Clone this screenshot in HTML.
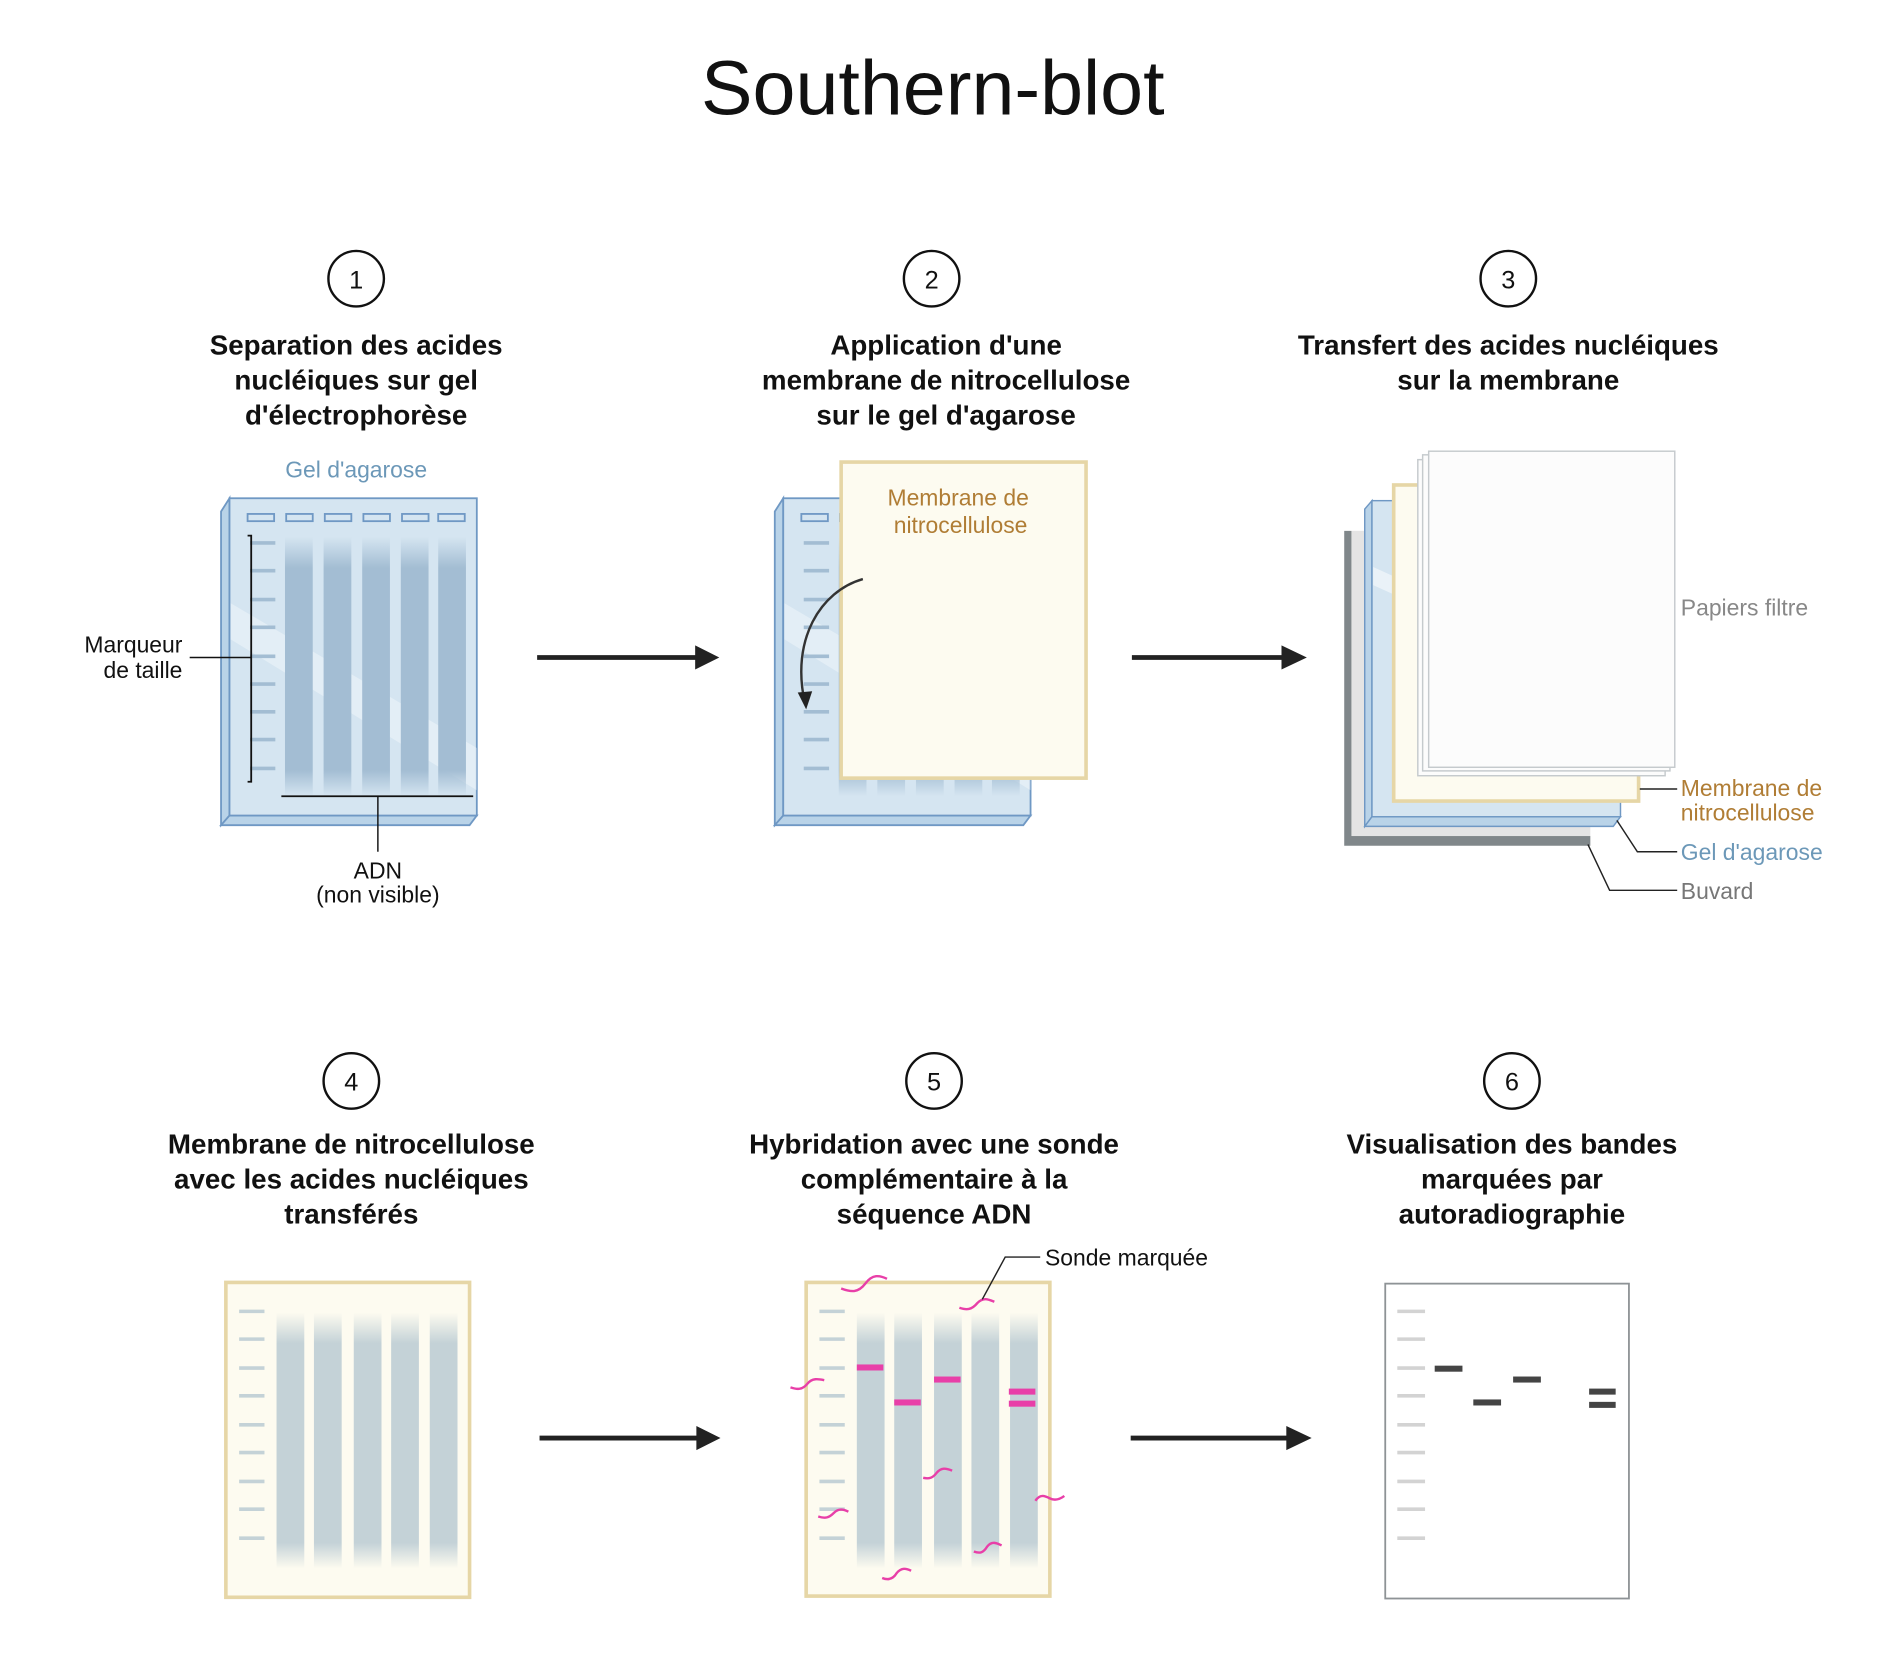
<!DOCTYPE html>
<html><head><meta charset="utf-8"><style>
html,body{margin:0;padding:0;background:#fff;}
svg{display:block;}
text{font-family:"Liberation Sans",sans-serif;}
.t{font-size:23px;font-weight:bold;fill:#111;text-anchor:middle;}
.n{font-size:21px;fill:#111;text-anchor:middle;}
.l{font-size:19px;}
</style></head><body>
<svg width="1891" height="1654" viewBox="0 0 1567 1371" xmlns="http://www.w3.org/2000/svg">
<defs>
<linearGradient id="lane" x1="0" y1="0" x2="0" y2="1">
<stop offset="0" stop-color="#a3bdd3" stop-opacity="0"/><stop offset="0.12" stop-color="#a3bdd3"/><stop offset="0.9" stop-color="#a3bdd3"/><stop offset="1" stop-color="#a3bdd3" stop-opacity="0"/></linearGradient>
<linearGradient id="lane2" x1="0" y1="0" x2="0" y2="1">
<stop offset="0" stop-color="#c4d2d7" stop-opacity="0"/><stop offset="0.12" stop-color="#c4d2d7"/><stop offset="0.9" stop-color="#c4d2d7"/><stop offset="1" stop-color="#c4d2d7" stop-opacity="0"/></linearGradient>
<g id="gel">
<path d="M183,424 L190,413 L190,676 L183,684 Z" fill="#b9d3e8" stroke="#6f98c4" stroke-width="1.5"/>
<path d="M183,684 L190,676 L395,676 L389,684 Z" fill="#b9d3e8" stroke="#6f98c4" stroke-width="1.5"/>
<rect x="190" y="413" width="205" height="263" fill="#d5e5f1" stroke="#6f98c4" stroke-width="1.5"/>
<path d="M191,500 L395,620 L395,655 L191,530 Z" fill="#fff" opacity="0.35"/>
<g fill="none" stroke="#6f98c4" stroke-width="1.5">
<rect x="205" y="426" width="22" height="6"/><rect x="237" y="426" width="22" height="6"/><rect x="269" y="426" width="22" height="6"/><rect x="301" y="426" width="22" height="6"/><rect x="333" y="426" width="22" height="6"/><rect x="363" y="426" width="22" height="6"/></g>
<g fill="url(#lane)"><rect x="236" y="445" width="23" height="215"/><rect x="268" y="445" width="23" height="215"/><rect x="300" y="445" width="23" height="215"/><rect x="332" y="445" width="23" height="215"/><rect x="363" y="445" width="23" height="215"/></g>
<g stroke="#a3bdd3" stroke-width="3"><line x1="207" x2="228" y1="450" y2="450"/><line x1="207" x2="228" y1="473" y2="473"/><line x1="207" x2="228" y1="497" y2="497"/><line x1="207" x2="228" y1="520" y2="520"/><line x1="207" x2="228" y1="544" y2="544"/><line x1="207" x2="228" y1="567" y2="567"/><line x1="207" x2="228" y1="590" y2="590"/><line x1="207" x2="228" y1="613" y2="613"/><line x1="207" x2="228" y1="637" y2="637"/></g>
</g>
<g id="mem">
<g fill="url(#lane2)"><rect x="229" y="1088" width="23" height="212"/><rect x="260" y="1088" width="23" height="212"/><rect x="293" y="1088" width="23" height="212"/><rect x="324" y="1088" width="23" height="212"/><rect x="356" y="1088" width="23" height="212"/></g>
<g stroke="#c4d2d7" stroke-width="3"><line x1="198" x2="219" y1="1087" y2="1087"/><line x1="198" x2="219" y1="1110" y2="1110"/><line x1="198" x2="219" y1="1134" y2="1134"/><line x1="198" x2="219" y1="1157" y2="1157"/><line x1="198" x2="219" y1="1181" y2="1181"/><line x1="198" x2="219" y1="1204" y2="1204"/><line x1="198" x2="219" y1="1228" y2="1228"/><line x1="198" x2="219" y1="1251" y2="1251"/><line x1="198" x2="219" y1="1275" y2="1275"/></g>
</g>
</defs>

<text x="773" y="95" font-size="64" text-anchor="middle" fill="#111">Southern-blot</text>

<g fill="none" stroke="#111" stroke-width="2">
<circle cx="295" cy="231" r="23"/><circle cx="772" cy="231" r="23"/><circle cx="1250" cy="231" r="23"/>
<circle cx="291" cy="896" r="23"/><circle cx="774" cy="896" r="23"/><circle cx="1253" cy="896" r="23"/></g>
<text class="n" x="295" y="239">1</text><text class="n" x="772" y="239">2</text><text class="n" x="1250" y="239">3</text>
<text class="n" x="291" y="904">4</text><text class="n" x="774" y="904">5</text><text class="n" x="1253" y="904">6</text>

<text class="t" x="295" y="294">Separation des acides</text><text class="t" x="295" y="323">nucléiques sur gel</text><text class="t" x="295" y="352">d'électrophorèse</text>
<text class="t" x="784" y="294">Application d'une</text><text class="t" x="784" y="323">membrane de nitrocellulose</text><text class="t" x="784" y="352">sur le gel d'agarose</text>
<text class="t" x="1250" y="294">Transfert des acides nucléiques</text><text class="t" x="1250" y="323">sur la membrane</text>
<text class="t" x="291" y="956">Membrane de nitrocellulose</text><text class="t" x="291" y="985">avec les acides nucléiques</text><text class="t" x="291" y="1014">transférés</text>
<text class="t" x="774" y="956">Hybridation avec une sonde</text><text class="t" x="774" y="985">complémentaire à la</text><text class="t" x="774" y="1014">séquence ADN</text>
<text class="t" x="1253" y="956">Visualisation des bandes</text><text class="t" x="1253" y="985">marquées par</text><text class="t" x="1253" y="1014">autoradiographie</text>

<g stroke="#222" stroke-width="4">
<line x1="445" y1="545" x2="580" y2="545"/><line x1="938" y1="545" x2="1066" y2="545"/>
<line x1="447" y1="1192" x2="581" y2="1192"/><line x1="937" y1="1192" x2="1070" y2="1192"/></g>
<g fill="#222">
<path d="M576,535 L596,545 L576,555 Z"/><path d="M1062,535 L1083,545 L1062,555 Z"/>
<path d="M577,1182 L597,1192 L577,1202 Z"/><path d="M1066,1182 L1087,1192 L1066,1202 Z"/></g>

<text x="295" y="396" class="l" fill="#6c98b8" text-anchor="middle">Gel d'agarose</text>
<use href="#gel"/>
<path d="M205,444 L208,444 L208,648 L205,648" fill="none" stroke="#111" stroke-width="1.5"/>
<line x1="157" y1="545" x2="208" y2="545" stroke="#111" stroke-width="1.2"/>
<text x="151" y="541" class="l" text-anchor="end" fill="#111">Marqueur</text>
<text x="151" y="562" class="l" text-anchor="end" fill="#111">de taille</text>
<line x1="233" y1="660" x2="392" y2="660" stroke="#111" stroke-width="1.5"/>
<line x1="313" y1="660" x2="313" y2="706" stroke="#111" stroke-width="1.2"/>
<text x="313" y="728" class="l" text-anchor="middle" fill="#111">ADN</text>
<text x="313" y="748" class="l" text-anchor="middle" fill="#111">(non visible)</text>

<use href="#gel" transform="translate(459,0)"/>
<rect x="697" y="383" width="203" height="262" fill="#fdfbf0" stroke="#e6d6a6" stroke-width="3"/>
<text x="794" y="419" class="l" text-anchor="middle" fill="#b07d35">Membrane de</text>
<text x="796" y="442" class="l" text-anchor="middle" fill="#b07d35">nitrocellulose</text>
<path d="M715,480 C680,490 655,530 667,583" fill="none" stroke="#333" stroke-width="2"/>
<path d="M661,574 L668,588 L673,573 Z" fill="#222"/>

<path d="M1114,440 L1120,440 L1120,693 L1318,693 L1318,701 L1114,701 Z" fill="#80878a"/>
<rect x="1120" y="440" width="198" height="253" fill="#e4e4e4"/>
<path d="M1131,422 L1137,415 L1137,677 L1131,685 Z" fill="#b9d3e8" stroke="#6f98c4" stroke-width="1.2"/>
<path d="M1131,685 L1137,677 L1343,677 L1337,685 Z" fill="#b9d3e8" stroke="#6f98c4" stroke-width="1.2"/>
<rect x="1137" y="415" width="206" height="262" fill="#d5e5f1" stroke="#6f98c4" stroke-width="1.2"/>
<path d="M1138,470 L1160,480 L1160,495 L1138,485 Z" fill="#fff" opacity="0.5"/>
<rect x="1155" y="402" width="203" height="262" fill="#fdfbf0" stroke="#e6d6a6" stroke-width="3"/>
<rect x="1175" y="381" width="205" height="262" fill="#fcfcfc" stroke="#c5cacd" stroke-width="1.2"/>
<rect x="1179" y="377" width="205" height="262" fill="#fcfcfc" stroke="#c5cacd" stroke-width="1.2"/>
<rect x="1184" y="374" width="204" height="262" fill="#fcfcfc" stroke="#c5cacd" stroke-width="1.2"/>
<text x="1393" y="510" class="l" fill="#888">Papiers filtre</text>
<line x1="1359" y1="654" x2="1390" y2="654" stroke="#222" stroke-width="1.2"/>
<text x="1393" y="660" class="l" fill="#b07d35">Membrane de</text>
<text x="1393" y="680" class="l" fill="#b07d35">nitrocellulose</text>
<path d="M1340,680 L1357,706 L1390,706" fill="none" stroke="#222" stroke-width="1.2"/>
<text x="1393" y="713" class="l" fill="#6c98b8">Gel d'agarose</text>
<path d="M1316,700 L1334,738 L1390,738" fill="none" stroke="#222" stroke-width="1.2"/>
<text x="1393" y="745" class="l" fill="#777">Buvard</text>

<rect x="187" y="1063" width="202" height="261" fill="#fdfbf0" stroke="#e6d6a6" stroke-width="3"/>
<use href="#mem"/>

<rect x="668" y="1063" width="202" height="260" fill="#fdfbf0" stroke="#e6d6a6" stroke-width="3"/>
<use href="#mem" transform="translate(481,0)"/>
<g fill="#e83fa8"><rect x="710" y="1131" width="22" height="5"/><rect x="741" y="1160" width="22" height="5"/><rect x="774" y="1141" width="22" height="5"/><rect x="836" y="1151" width="22" height="5"/><rect x="836" y="1161" width="22" height="5"/></g>
<g fill="none" stroke="#e83fa8" stroke-width="2">
<path d="M697,1068 c8,3 14,4 20,-4 c6,-8 12,-7 18,-4"/>
<path d="M795,1084 c6,2 10,2 15,-4 c5,-5 9,-3 14,-1"/>
<path d="M655,1150 c6,2 10,2 14,-3 c4,-5 9,-4 14,-3"/>
<path d="M765,1225 c5,1 8,0 11,-4 c4,-5 8,-4 13,-2"/>
<path d="M858,1244 c4,-6 8,-4 12,-2 c4,2 8,1 12,-2"/>
<path d="M678,1257 c6,2 9,1 13,-3 c4,-4 8,-3 12,-1"/>
<path d="M807,1286 c5,2 8,1 11,-4 c4,-5 8,-3 12,-1"/>
<path d="M731,1308 c5,2 9,1 12,-4 c4,-5 8,-4 12,-2"/></g>
<path d="M814,1077 L833,1042 L862,1042" fill="none" stroke="#222" stroke-width="1.2"/>
<text x="866" y="1049" class="l" fill="#111">Sonde marquée</text>

<rect x="1148" y="1064" width="202" height="261" fill="#fff" stroke="#8e9396" stroke-width="1.5"/>
<g stroke="#d3d3d3" stroke-width="3"><line x1="1158" x2="1181" y1="1087" y2="1087"/><line x1="1158" x2="1181" y1="1110" y2="1110"/><line x1="1158" x2="1181" y1="1134" y2="1134"/><line x1="1158" x2="1181" y1="1157" y2="1157"/><line x1="1158" x2="1181" y1="1181" y2="1181"/><line x1="1158" x2="1181" y1="1204" y2="1204"/><line x1="1158" x2="1181" y1="1228" y2="1228"/><line x1="1158" x2="1181" y1="1251" y2="1251"/><line x1="1158" x2="1181" y1="1275" y2="1275"/></g>
<g fill="#444"><rect x="1189" y="1132" width="23" height="5"/><rect x="1221" y="1160" width="23" height="5"/><rect x="1254" y="1141" width="23" height="5"/><rect x="1317" y="1151" width="22" height="5"/><rect x="1317" y="1162" width="22" height="5"/></g>
</svg>
</body></html>
